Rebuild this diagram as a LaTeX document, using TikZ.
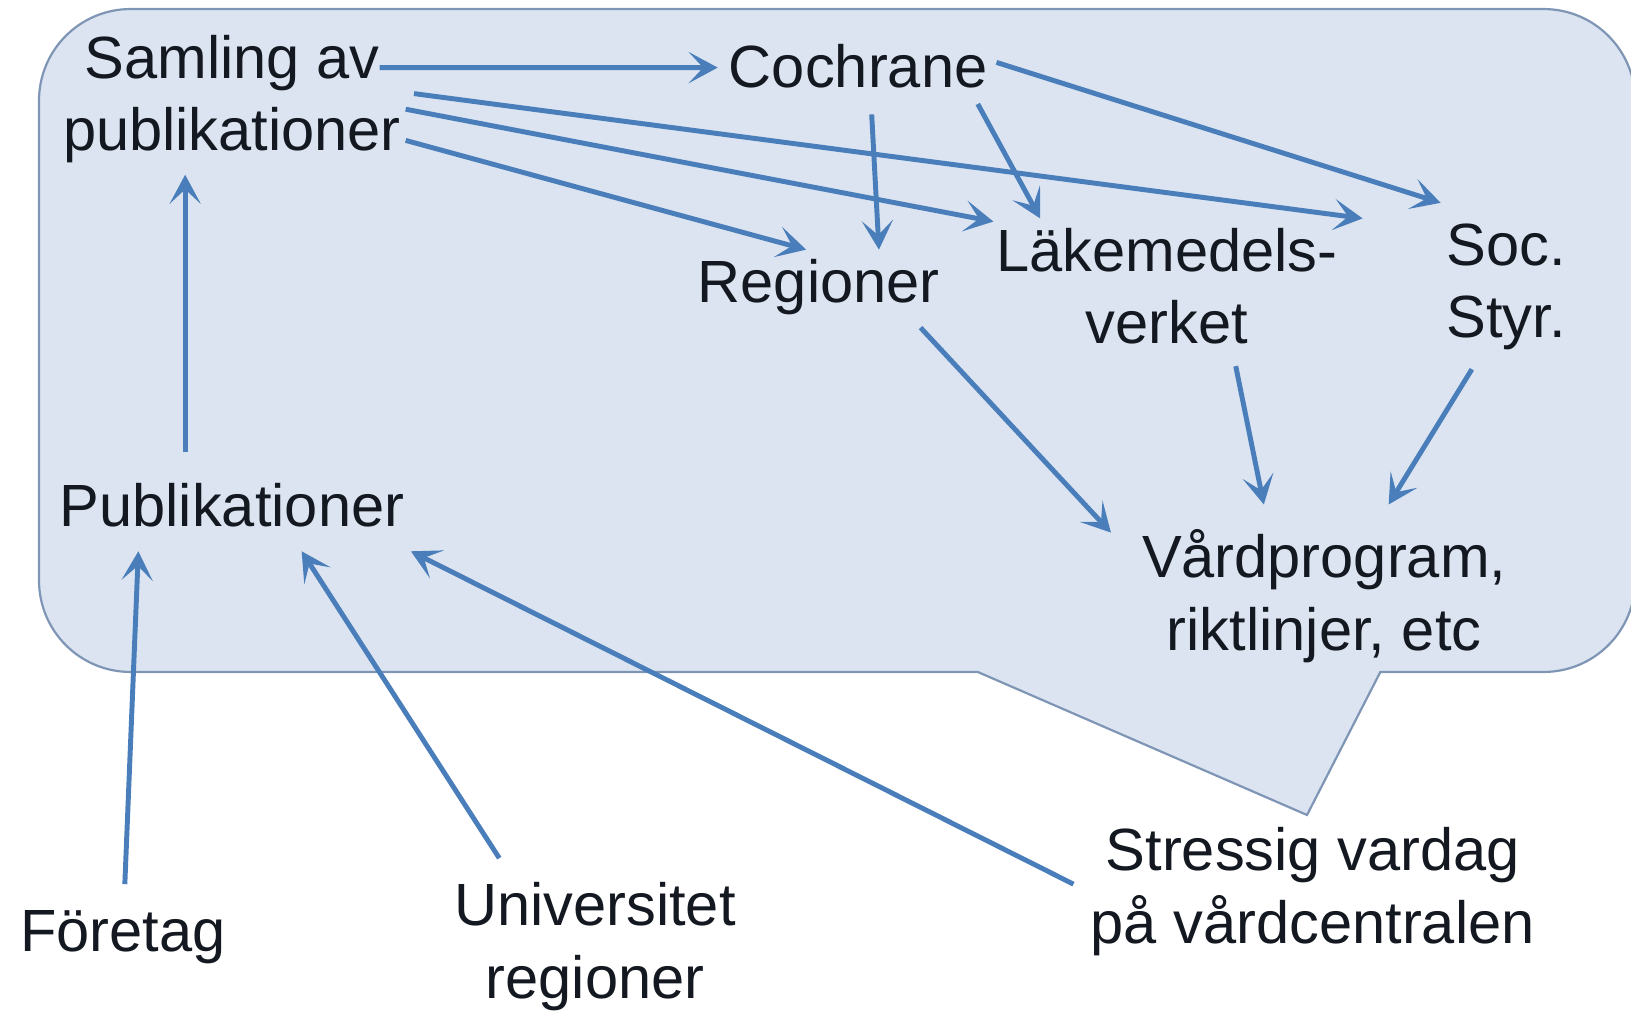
\documentclass[tikz,border=0pt]{standalone}
\usepackage{fontspec}
\setmainfont{Liberation Sans}
\usetikzlibrary{calc, arrows.meta}
\definecolor{pilblue}{HTML}{4A7EBB}
\definecolor{bubblefill}{HTML}{DBE4F0}
\definecolor{bubbleline}{HTML}{7F95B5}
\definecolor{textdark}{HTML}{141820}

\begin{document}
\begin{tikzpicture}[
    lbl/.style={align=center, text=textdark, inner sep=0pt, font=\fontsize{16.3}{19.8}\selectfont},
    pil/.style={-{Stealth[length=2.8mm, width=3mm, inset=1.4mm]}, line width=1.35pt, pilblue}]
  \useasboundingbox (0,0) rectangle (15.68,-9.73);

  % Speech bubble
  \draw[bubbleline, fill=bubblefill, line width=0.6pt]
    (0.375,-0.967) arc[start angle=180, end angle=90, radius=0.88]
    -- (14.84,-0.087) arc[start angle=90, end angle=0, radius=0.88]
    -- (15.72,-5.58) arc[start angle=0, end angle=-90, radius=0.88]
    -- (13.27,-6.46) -- (12.565,-7.835) -- (9.40,-6.46)
    -- (1.255,-6.46) arc[start angle=270, end angle=180, radius=0.88] -- cycle;

  % Labels
  \node[lbl] (samling) at (2.23,-0.95) {Samling av\\publikationer};
  \node[lbl] (cochrane) at (8.25,-0.64) {Cochrane};
  \node[lbl] (regioner) at (7.87,-2.76) {Regioner};
  \node[lbl] (lakemedel) at (11.22,-2.75) {Läkemedels-\\verket};
  \node[lbl] (socstyr) at (14.48,-2.76) {Soc.\\Styr.};
  \node[lbl] (publ) at (2.23,-4.86) {Publikationer};
  \node[lbl] (vard) at (12.73,-5.73) {Vårdprogram,\\riktlinjer, etc};
  \node[lbl] (foretag) at (1.18,-9.01) {Företag};
  \node[lbl] (univ) at (5.72,-9.10) {Universitet\\regioner};
  \node[lbl] (stress) at (12.62,-8.57) {Stressig vardag\\på vårdcentralen};

  % Arrows from the collection
  \draw[pil] ($(samling)+(1.42,0.30)$) -- ($(cochrane)+(-1.35,-0.01)$);
  \draw[pil] ($(samling)+(1.75,0.05)$) -- ($(socstyr)+(-1.38,0.66)$);
  \draw[pil] ($(samling)+(1.67,-0.10)$) -- ($(lakemedel)+(-1.67,0.62)$);
  \draw[pil] ($(samling)+(1.67,-0.40)$) -- ($(regioner)+(-0.12,0.36)$);

  % Arrows from Cochrane
  \draw[pil] ($(cochrane)+(0.13,-0.46)$) -- ($(regioner)+(0.58,0.36)$);
  \draw[pil] ($(cochrane)+(1.15,-0.36)$) -- ($(lakemedel)+(-1.22,0.65)$);
  \draw[pil] ($(cochrane)+(1.33,0.04)$) -- ($(socstyr)+(-0.63,0.81)$);

  % Arrows to the guidelines
  \draw[pil] ($(regioner)+(0.98,-0.39)$) -- ($(vard)+(-2.05,0.61)$);
  \draw[pil] ($(lakemedel)+(0.66,-0.77)$) -- ($(vard)+(-0.58,0.88)$);
  \draw[pil] ($(socstyr)+(-0.33,-0.79)$) -- ($(vard)+(0.62,0.88)$);

  % Arrows into the publications
  \draw[pil] ($(publ)+(-0.45,0.51)$) -- ($(samling)+(-0.45,-0.73)$);
  \draw[pil] ($(foretag)+(0.02,0.51)$) -- ($(publ)+(-0.90,-0.44)$);
  \draw[pil] ($(univ)+(-0.92,0.85)$) -- ($(publ)+(0.67,-0.44)$);
  \draw[pil] ($(stress)+(-2.30,0.07)$) -- ($(publ)+(1.72,-0.44)$);
\end{tikzpicture}
\end{document}
